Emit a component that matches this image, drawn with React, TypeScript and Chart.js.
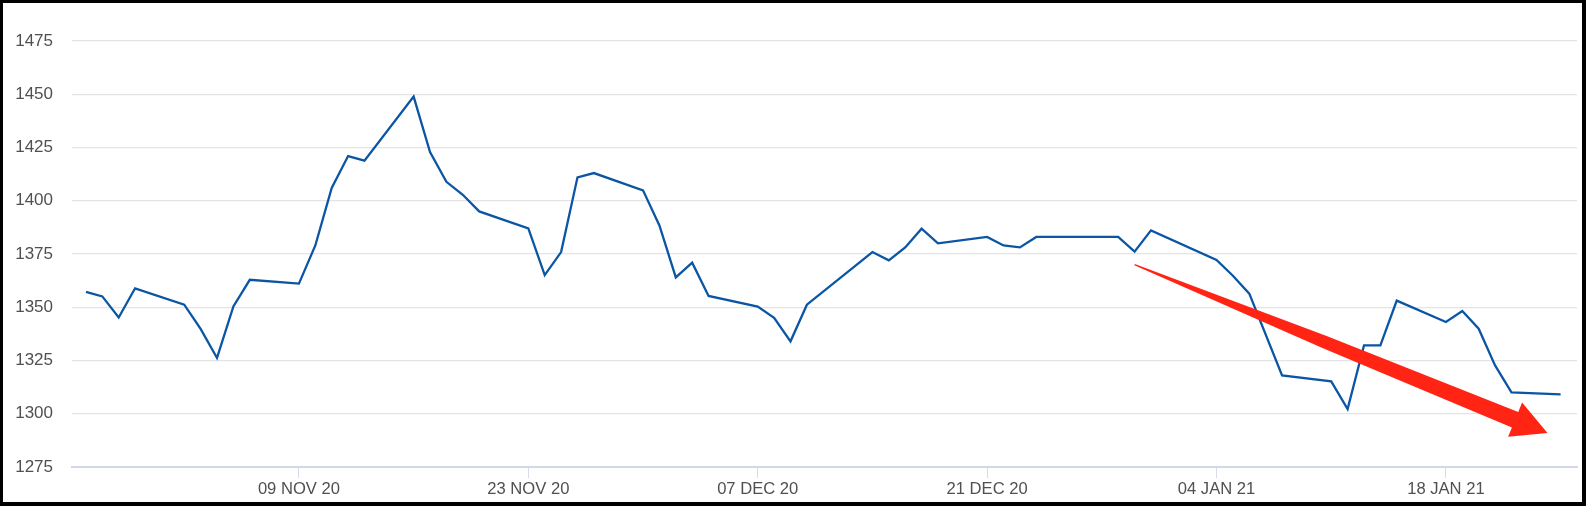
import React, { useEffect, useRef } from "react";
import { Chart, registerables } from "chart.js";

Chart.register(...registerables);

// ---- data ----
const dates = [
  "2020-10-27", "2020-10-28", "2020-10-29", "2020-10-30",
  "2020-11-02", "2020-11-03", "2020-11-04", "2020-11-05", "2020-11-06",
  "2020-11-09", "2020-11-10", "2020-11-11", "2020-11-12", "2020-11-13",
  "2020-11-16", "2020-11-17", "2020-11-18", "2020-11-19", "2020-11-20",
  "2020-11-23", "2020-11-24", "2020-11-25", "2020-11-26", "2020-11-27",
  "2020-11-30", "2020-12-01", "2020-12-02", "2020-12-03", "2020-12-04",
  "2020-12-07", "2020-12-08", "2020-12-09", "2020-12-10",
  "2020-12-14", "2020-12-15", "2020-12-16", "2020-12-17", "2020-12-18",
  "2020-12-21", "2020-12-22", "2020-12-23", "2020-12-24",
  "2020-12-29", "2020-12-30", "2020-12-31",
  "2021-01-04", "2021-01-05", "2021-01-06", "2021-01-08",
  "2021-01-11", "2021-01-12", "2021-01-13", "2021-01-14", "2021-01-15",
  "2021-01-18", "2021-01-19", "2021-01-20", "2021-01-21", "2021-01-22",
  "2021-01-25",
];

const prices = [
  1357.2, 1355.1, 1345.2, 1358.9,
  1351.2, 1339.8, 1326.2, 1350.4, 1362.9,
  1361.1, 1379.0, 1406.0, 1421.0, 1418.8,
  1448.9, 1422.9, 1408.9, 1402.8, 1395.0,
  1387.0, 1365.1, 1375.9, 1411.0, 1413.0,
  1404.9, 1388.4, 1364.0, 1370.9, 1355.3,
  1350.3, 1345.0, 1334.0, 1351.2,
  1375.9, 1372.0, 1378.1, 1386.9, 1380.0,
  1383.0, 1379.0, 1378.1, 1383.0,
  1383.0, 1376.1, 1386.1,
  1372.2, 1364.8, 1356.4, 1318.0,
  1315.2, 1302.2, 1332.1, 1332.1, 1353.1,
  1343.1, 1348.2, 1339.9, 1322.7, 1310.0,
  1309.1,
];

const tickDates = ["2020-11-09", "2020-11-23", "2020-12-07", "2020-12-21", "2021-01-04", "2021-01-18"];
const tickLabels = ["09 NOV 20", "23 NOV 20", "07 DEC 20", "21 DEC 20", "04 JAN 21", "18 JAN 21"];

const xRangeDays = [-0.85, 91.0];
const yRange = [1275, 1475];
const yStep = 25;

// trend arrow annotation (day offset, value)
const arrowStart = [64.0, 1370.0];
const arrowEnd = [89.2, 1291.0];

// ---- helpers ----
const ORIGIN = Date.UTC(2020, 9, 27);
const dayOf = (s: string) => (Date.parse(s + "T00:00:00Z") - ORIGIN) / 86400000;

const points = dates.map((d, i) => ({ x: dayOf(d), y: prices[i] }));
const tickDays = tickDates.map(dayOf);

const FONT = "'Liberation Sans', Arial, sans-serif";

const arrowPlugin = {
  id: "trendArrow",
  afterDatasetsDraw(chart: any) {
    const xs = chart.scales.x;
    const ys = chart.scales.y;
    const sx = xs.getPixelForValue(arrowStart[0]);
    const sy = ys.getPixelForValue(arrowStart[1]);
    const tx = xs.getPixelForValue(arrowEnd[0]);
    const ty = ys.getPixelForValue(arrowEnd[1]);
    const dx = tx - sx;
    const dy = ty - sy;
    const L = Math.hypot(dx, dy);
    const ux = dx / L, uy = dy / L;
    const nx = -uy, ny = ux;
    const headLen = 35;
    const headHalf = 18.5;
    const shaftLen = L - headLen;
    const at = (t: number, w: number) => [sx + ux * t + nx * w, sy + uy * t + ny * w];
    const pts = [
      at(0, 0.6),
      at(shaftLen * 0.5, 6.4),
      at(shaftLen, 8.4),
      at(shaftLen, headHalf),
      [tx, ty],
      at(shaftLen, -headHalf),
      at(shaftLen, -8.4),
      at(shaftLen * 0.5, -6.4),
      at(0, -0.6),
    ];
    const ctx = chart.ctx;
    ctx.save();
    ctx.beginPath();
    ctx.moveTo(pts[0][0], pts[0][1]);
    for (let i = 1; i < pts.length; i++) ctx.lineTo(pts[i][0], pts[i][1]);
    ctx.closePath();
    ctx.fillStyle = "#ff2414";
    ctx.fill();
    ctx.restore();
  },
};

export default function App() {
  const ref = useRef<HTMLCanvasElement | null>(null);

  useEffect(() => {
    if (!ref.current) return;
    const chart = new Chart(ref.current, {
      type: "line",
      data: {
        datasets: [
          {
            data: points,
            borderColor: "#0b56a4",
            borderWidth: 2.3,
            pointRadius: 0,
            tension: 0,
            fill: false,
          },
        ],
      },
      options: {
        animation: false,
        responsive: false,
        devicePixelRatio: 1,
        layout: { padding: { top: 38, right: 5, left: 0, bottom: 0 } },
        plugins: { legend: { display: false }, tooltip: { enabled: false } },
        scales: {
          x: {
            type: "linear",
            min: xRangeDays[0],
            max: xRangeDays[1],
            afterBuildTicks: (scale: any) => {
              scale.ticks = tickDays.map((v) => ({ value: v }));
            },
            afterFit: (scale: any) => {
              scale.height = 35;
            },
            ticks: {
              autoSkip: false,
              maxRotation: 0,
              padding: 1,
              color: "#505050",
              font: { family: FONT, size: 16.6 },
              callback: (v: any) => {
                const i = tickDays.findIndex((d) => Math.abs(d - v) < 0.01);
                return i >= 0 ? tickLabels[i] : "";
              },
            },
            grid: {
              drawOnChartArea: false,
              drawTicks: true,
              tickLength: 11,
              color: "#d7dbec",
              lineWidth: 1,
            },
            border: { display: true, color: "#d3d7ea", width: 2 },
          },
          y: {
            min: yRange[0],
            max: yRange[1],
            afterBuildTicks: (scale: any) => {
              const t = [];
              for (let v = yRange[0]; v <= yRange[1]; v += yStep) t.push({ value: v });
              scale.ticks = t;
            },
            afterFit: (scale: any) => {
              scale.width = 69;
            },
            ticks: {
              padding: 19,
              color: "#505050",
              font: { family: FONT, size: 17 },
              callback: (v: any) => String(v),
            },
            grid: {
              drawTicks: false,
              color: "#e4e4e4",
              lineWidth: 1.2,
            },
            border: { display: false },
          },
        },
      },
      plugins: [arrowPlugin],
    } as any);
    return () => chart.destroy();
  }, []);

  return (
    <div
      style={{
        position: "fixed",
        left: 0,
        top: 0,
        width: 1586,
        height: 506,
        boxSizing: "border-box",
        borderStyle: "solid",
        borderColor: "#000",
        borderWidth: "3px 4px 4px 3px",
        background: "#fff",
        overflow: "hidden",
      }}
    >
      <canvas ref={ref} width={1579} height={499} style={{ display: "block" }} />
    </div>
  );
}
